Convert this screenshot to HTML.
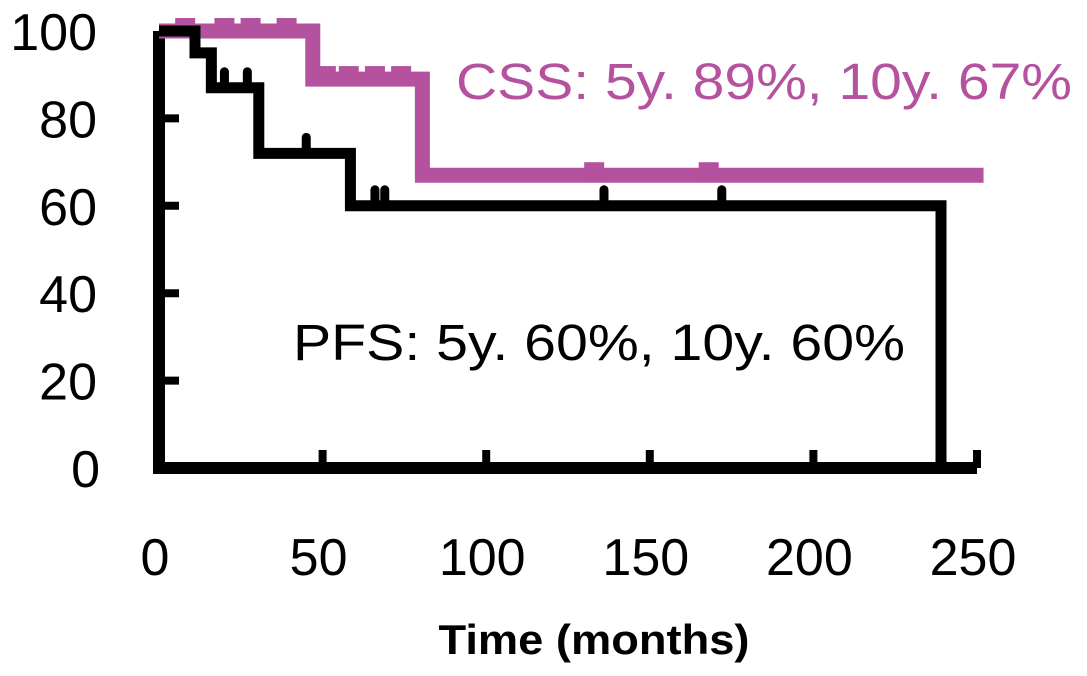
<!DOCTYPE html>
<html><head><meta charset="utf-8"><style>
html,body{margin:0;padding:0;background:#fff}
svg{display:block}
text{font-family:"Liberation Sans",sans-serif}
</style></head><body>
<svg id="chart" width="1087" height="676" viewBox="0 0 1087 676" xmlns="http://www.w3.org/2000/svg">
<g id="axes"></g>
<g id="series"></g>
<text x="293" y="360" font-size="51" fill="#000" textLength="612" lengthAdjust="spacingAndGlyphs">PFS: 5y. 60%, 10y. 60%</text>
<text x="456" y="99" font-size="51" fill="#b5529f" textLength="616" lengthAdjust="spacingAndGlyphs">CSS: 5y. 89%, 10y. 67%</text>
<text x="594" y="654" font-size="42" font-weight="bold" text-anchor="middle" textLength="311" lengthAdjust="spacingAndGlyphs">Time (months)</text>
</svg>
<script>
const xTicks=[0,50,100,150,200,250];
const yTicks=[0,20,40,60,80,100];
const pfsTimes=[0,11,16,30.5,58.5,239];
const pfsSurv=[100,95,87,72,60,0];
const pfsCensorT=[20,27,45,66,69,136,172];
const pfsCensorS=[87,87,72,60,60,60,60];
const pfsEnd=239;
const cssTimes=[0,47,80.5];
const cssSurv=[100,89,67];
const cssCensorT=[8,20,28,39,51,58,66,74,133,168];
const cssCensorS=[100,100,100,100,89,89,89,89,67,67];
const cssEnd=252;

const X0=159,XS=(977-159)/250,Y0=468,YS=(468-31)/100;
const sx=t=>X0+t*XS, sy=v=>Y0-v*YS;
const NS="http://www.w3.org/2000/svg";
function mk(tag,attrs,parent){const e=document.createElementNS(NS,tag);for(const k in attrs)e.setAttribute(k,attrs[k]);parent.appendChild(e);return e;}
const axes=document.getElementById('axes'),series=document.getElementById('series');

function stepPath(ts,ss,end){let d=`M${sx(ts[0])},${sy(ss[0])}`;for(let i=1;i<ts.length;i++){d+=` H${sx(ts[i])} V${sy(ss[i])}`;}d+=` H${sx(end)}`;return d;}

// CSS series (pink)
const cssLine=mk('path',{d:stepPath(cssTimes,cssSurv,cssEnd),fill:'none',stroke:'#b5529f','stroke-width':15,'stroke-linejoin':'miter'},series);


cssCensorT.forEach((t,i)=>{const r=mk('rect',{x:sx(t)-10,y:sy(cssCensorS[i])-13,width:20,height:20,fill:'#b5529f'},series);

});

// axes
const ya=mk('path',{d:`M${sx(0)},${sy(100)} V${sy(0)} H${sx(250)}`,fill:'none',stroke:'#000','stroke-width':12},axes);


yTicks.forEach(v=>{if(v>0&&v<100){const t=mk('line',{x1:sx(0),x2:sx(0)+20,y1:sy(v),y2:sy(v),stroke:'#000','stroke-width':8},axes);

}
const l=mk('text',{x:v===0?100:97,y:sy(v)+19,'font-size':52,'text-anchor':'end'},axes);l.textContent=v;

});
xTicks.forEach(v=>{if(v>0){const t=mk('line',{x1:sx(v),x2:sx(v),y1:sy(0),y2:sy(0)-18,stroke:'#000','stroke-width':8},axes);

}
const l=mk('text',{x:sx(v)-4,y:575,'font-size':52,'text-anchor':'middle'},axes);l.textContent=v;

});

// PFS series (black)
let d=stepPath(pfsTimes,pfsSurv,pfsTimes[pfsTimes.length-1]);
const pfsLine=mk('path',{d:d,fill:'none',stroke:'#000','stroke-width':11},series);


pfsCensorT.forEach((t,i)=>{const r=mk('line',{x1:sx(t),x2:sx(t),y1:sy(pfsCensorS[i]),y2:sy(pfsCensorS[i])-16,stroke:'#000','stroke-width':9,'stroke-linecap':'round'},series);

});
</script>
</body></html>
